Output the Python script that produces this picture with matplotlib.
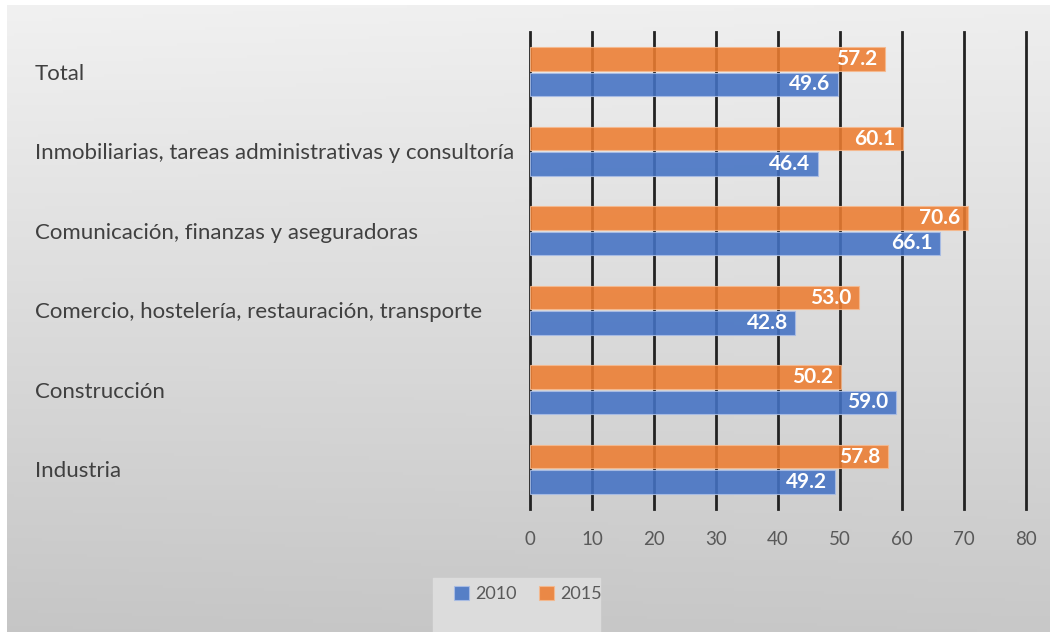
import numpy as np
import matplotlib.pyplot as plt
from matplotlib.patches import Rectangle

# datos
categorias = ["Total",
              "Inmobiliarias, tareas administrativas y consultoría",
              "Comunicación, finanzas y aseguradoras",
              "Comercio, hostelería, restauración, transporte",
              "Construcción",
              "Industria"]
v2010 = [49.6, 46.4, 66.1, 42.8, 59.0, 49.2]
v2015 = [57.2, 60.1, 70.6, 53.0, 50.2, 57.8]
series = ["2010", "2015"]

AZUL = "#4472C4"
NARANJA = "#ED7D31"
W, H = 1050, 632

plt.rcParams['font.family'] = ['Lato', 'DejaVu Sans']

fig = plt.figure(figsize=(W / 100, H / 100), dpi=100)

# fondo degradado
bg = fig.add_axes([0, 0, 1, 1], zorder=-10)
yy, xx = np.mgrid[0:1:200j, 0:1:300j]
grad = 0.945 - 0.17 * yy + 0.02 * xx * yy - 0.01 * xx
bg.imshow(np.dstack([grad] * 3), extent=[7, W, H, 5], aspect='auto')
bg.set_xlim(0, W)
bg.set_ylim(H, 0)
bg.axis('off')
bg.add_patch(Rectangle((433, 578), 167, 60, color="#dcdcdc", zorder=2))

ax = fig.add_axes([530 / W, 1 - 509 / H, (1026 - 530) / W, (509 - 32) / H])
ax.patch.set_alpha(0)

y = np.arange(len(categorias))
h = 0.3
b1 = ax.barh(y + h / 2 + 0.01, v2010, height=h, color=AZUL, alpha=0.88,
             edgecolor="#a9bde6", linewidth=0.8, label=series[0], zorder=3)
b2 = ax.barh(y - h / 2 - 0.01, v2015, height=h, color=NARANJA, alpha=0.88,
             edgecolor="#f6b98e", linewidth=0.8, label=series[1], zorder=3)
for bars, vals in ((b1, v2010), (b2, v2015)):
    for r, v in zip(bars, vals):
        ax.annotate(f"{v:.1f}", (v, r.get_y() + r.get_height() / 2),
                    xytext=(-5.5, 0), textcoords="offset points", ha="right",
                    va="center", color="white", fontsize=15, fontweight="bold",
                    zorder=4)

ax.set_ylim(len(categorias) - 0.5, -0.5)
ax.set_xlim(0, 80)
ax.set_xticks(range(0, 81, 10))
ax.grid(axis='x', color="#222222", linewidth=2, zorder=1, clip_on=False)
ax.set_axisbelow(True)
for s in ax.spines.values():
    s.set_visible(False)
ax.set_yticks(y, labels=categorias, ha='left')
ax.tick_params(axis='y', length=0, pad=356.4, labelsize=16, labelcolor="#404040")
ax.tick_params(axis='x', length=0, pad=16, labelsize=13.5, labelcolor="#595959")

fig.legend(handles=[b1, b2], labels=series, loc='center', ncol=2,
           bbox_to_anchor=(528 / W, 1 - 594 / H), frameon=False, fontsize=13,
           labelcolor="#595959", handlelength=0.85, handleheight=0.85,
           handletextpad=0.35, columnspacing=1.2)

fig.savefig("out.png", dpi=100)
